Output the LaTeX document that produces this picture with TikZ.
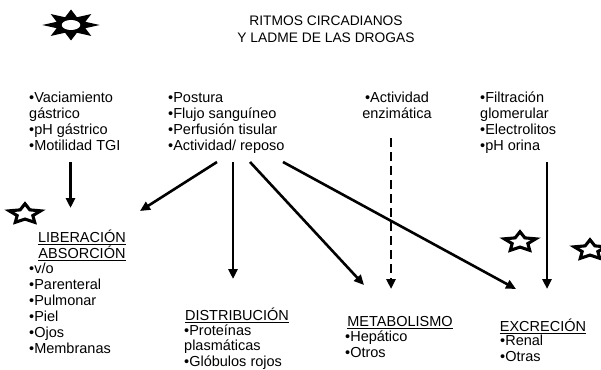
\documentclass[tikz,border=0pt]{standalone}
\usepackage{fontspec}
\setmainfont{Liberation Sans}
\usetikzlibrary{arrows.meta, positioning, shapes.geometric}
\tikzset{
  lista/.style={font=\fontsize{14.5}{16}\selectfont, align=left, inner sep=0pt, anchor=base west},
  titulo/.style={font=\fontsize{14.5}{16}\selectfont, align=center, inner sep=0pt, anchor=base},
  arr/.style={-{Triangle[length=10pt, width=9pt]}, line width=2.6pt},
  estrella/.style={star, star points=5, star point ratio=2.0, draw, line width=3.1pt, minimum size=33pt, inner sep=0pt},
}
\newcommand{\subr}[1]{\leavevmode\vtop{\hbox{#1}\kern1.6pt\hrule height 1.3pt}}

\begin{document}
\begin{tikzpicture}[x=1pt, y=-1pt]
  \useasboundingbox (0,0) rectangle (601,369);

  % sol
  \begin{scope}[shift={(71,25)}, xscale=1.85]
    \node[star, star points=8, star point ratio=1.85, fill=black, minimum size=31pt, inner sep=0pt, transform shape] (sol) {};
    \fill[white] (0,0) ellipse (5 and 5);
  \end{scope}

  % titulo (base = ultima linea)
  \node[titulo, font=\fontsize{13.8}{17}\selectfont] (tit) at (326,42) {RITMOS CIRCADIANOS\\Y LADME DE LAS DROGAS};

  % factores
  \node[lista] (vac) at (29,150) {•Vaciamiento\\gástrico\\•pH gástrico\\•Motilidad TGI};
  \node[lista] (pos) at (168,150) {•Postura\\•Flujo sanguíneo\\•Perfusión tisular\\•Actividad/ reposo};
  \node[titulo] (enz) at (397,118) {•Actividad\\enzimática};
  \node[lista] (fil) at (480,150) {•Filtración\\glomerular\\•Electrolitos\\•pH orina};

  % etapas
  \node[titulo] (lib) at (82,258) {\subr{LIBERACIÓN}\\\subr{ABSORCIÓN}};
  \node[lista] (libl) at (29,353) {•v/o\\•Parenteral\\•Pulmonar\\•Piel\\•Ojos\\•Membranas};
  \node[titulo] (dis) at (237,320) {\subr{DISTRIBUCIÓN}};
  \node[lista, font=\fontsize{14.5}{15.5}\selectfont] (disl) at (184,366) {•Proteínas\\plasmáticas\\•Glóbulos rojos};
  \node[titulo] (met) at (400,326) {\subr{METABOLISMO}};
  \node[lista, font=\fontsize{14.5}{15.2}\selectfont] (metl) at (345,357) {•Hepático\\•Otros};
  \node[titulo] (exc) at (543,331) {\subr{EXCRECIÓN}};
  \node[lista, font=\fontsize{14.5}{15.2}\selectfont] (excl) at (500,361) {•Renal\\•Otras};

  % estrellas
  \foreach \x/\y [count=\i] in {25/214, 520/242, 590/250} {
    \begin{scope}[shift={(\x,\y)}, yscale=0.62]
      \node[estrella, transform shape] (est\i) {};
    \end{scope}
  }

  % flechas
  \coordinate (vac-o) at (70.5,162);
  \coordinate (pos-o1) at (217,162);
  \coordinate (pos-o2) at (233,162);
  \coordinate (pos-o3) at (250,162);
  \coordinate (pos-o4) at (283,162);
  \coordinate (enz-o) at (391,138);
  \coordinate (fil-o) at (547,162);
  \coordinate (lib-i1) at (70.5,208);
  \coordinate (lib-i2) at (140,211);
  \coordinate (dis-i) at (233,279);
  \coordinate (met-i1) at (364,285);
  \coordinate (met-i2) at (391,289);
  \coordinate (exc-i1) at (516,289);
  \coordinate (exc-i2) at (547,289);

  \draw[arr] (vac-o) -- (lib-i1);
  \draw[arr] (pos-o1) -- (lib-i2);
  \draw[arr] (pos-o2) -- (dis-i);
  \draw[arr] (pos-o3) -- (met-i1);
  \draw[arr] (pos-o4) -- (exc-i1);
  \draw[arr, dash pattern=on 9pt off 5pt] (enz-o) -- (met-i2);
  \draw[arr] (fil-o) -- (exc-i2);
\end{tikzpicture}
\end{document}
